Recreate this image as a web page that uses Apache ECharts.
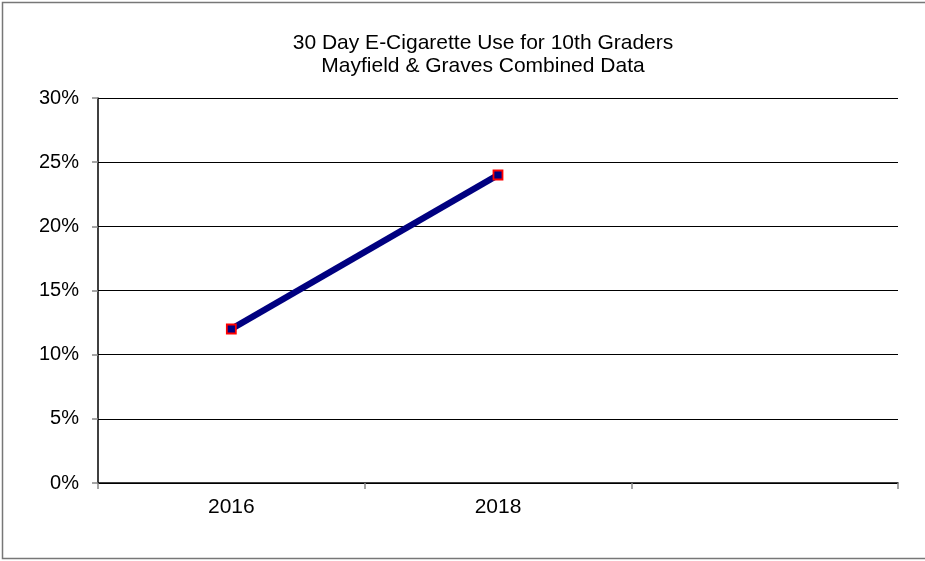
<!DOCTYPE html>
<html><head><meta charset="utf-8">
<script src="https://cdn.jsdelivr.net/npm/echarts@6/dist/echarts.min.js"></script>
<style>html,body{margin:0;padding:0;background:#fff}#c{width:925px;height:561px}</style>
</head><body><div id="c"></div>
<script>
const titleLines = ['30 Day E-Cigarette Use for 10th Graders', 'Mayfield & Graves Combined Data'];
const categories = ['2016', '2018', ''];
const useRate = [0.12, 0.24, null];
const yMin = 0, yMax = 0.30, yStep = 0.05;

const chart = echarts.init(document.getElementById('c'), null, {renderer: 'canvas'});
chart.setOption({
  animation: false,
  backgroundColor: '#fff',
  textStyle: {fontFamily: 'Liberation Sans, Arial, sans-serif'},
  title: {
    text: titleLines.join('\n'),
    left: 478, top: 27, textAlign: 'center',
    textStyle: {fontSize: 21, fontWeight: 'normal', color: '#000', lineHeight: 23, fontFamily: 'Liberation Sans, Arial, sans-serif'}
  },
  graphic: [{
    type: 'rect', shape: {x: 2.5, y: 2.5, width: 940, height: 556},
    style: {fill: 'none', stroke: '#777', lineWidth: 1.5}, silent: true, z: 100
  }],
  grid: {left: 98, right: 27, top: 98, bottom: 78, containLabel: false},
  xAxis: {
    type: 'category', data: categories, boundaryGap: true,
    axisLine: {lineStyle: {color: '#000', width: 1.5}},
    axisTick: {show: true, alignWithLabel: false, length: 6, lineStyle: {color: '#888', width: 1.5}},
    axisLabel: {color: '#000', fontSize: 21, margin: 14, fontFamily: 'Liberation Sans, Arial, sans-serif'},
    splitLine: {show: false}
  },
  yAxis: {
    type: 'value', min: yMin, max: yMax, interval: yStep,
    axisLine: {show: true, lineStyle: {color: '#000', width: 1.5}},
    axisTick: {show: true, length: 6, lineStyle: {color: '#888', width: 1.5}},
    axisLabel: {color: '#000', fontSize: 20, margin: 19, fontFamily: 'Liberation Sans, Arial, sans-serif',
      formatter: v => Math.round(v * 100) + '%'},
    splitLine: {show: true, lineStyle: {color: '#000', width: 1}}
  },
  series: [{
    type: 'line', data: useRate, connectNulls: false,
    lineStyle: {color: '#000080', width: 6.5},
    symbol: 'rect', symbolSize: 9, showAllSymbol: true,
    itemStyle: {color: '#000080', borderColor: '#ff0000', borderWidth: 1.8}
  }]
});
</script></body></html>
